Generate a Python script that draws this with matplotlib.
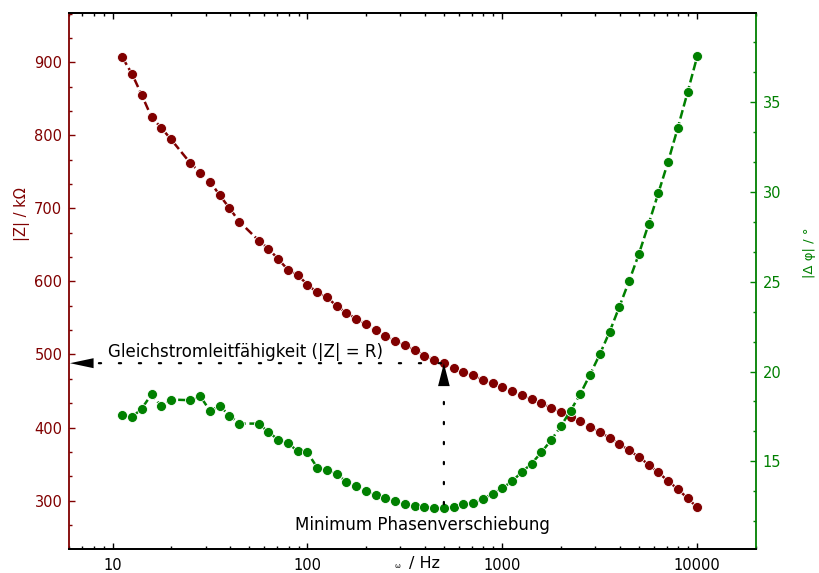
import numpy as np
import matplotlib.pyplot as plt
from matplotlib.ticker import MultipleLocator, AutoMinorLocator, LogLocator, FuncFormatter, NullFormatter
from matplotlib.transforms import blended_transform_factory

# Frequenz / Hz
freq = [11.22, 12.59, 14.13, 15.85, 17.78, 19.95,
        25.12, 28.18, 31.62, 35.48, 39.81, 44.67,
        56.23, 63.10, 70.79, 79.43, 89.13, 100.0, 112.2, 125.9, 141.3, 158.5,
        177.8, 199.5, 223.9, 251.2, 281.8, 316.2, 354.8, 398.1, 446.7, 501.2,
        562.3, 631.0, 707.9, 794.3, 891.3, 1000, 1122, 1259, 1413, 1585,
        1778, 1995, 2239, 2512, 2818, 3162, 3548, 3981, 4467, 5012,
        5623, 6310, 7079, 7943, 8913, 10000]

# |Z| / kOhm
z_abs = [906.8, 884.0, 855.0, 824.9, 810.3, 794.5,
         761.7, 748.9, 736.6, 718.0, 700.3, 682.0,
         656.0, 644.7, 630.6, 616.0, 608.8, 595.6, 585.0, 578.2, 566.5, 556.9,
         549.1, 541.4, 533.2, 525.9, 518.7, 512.7, 506.4, 498.6, 492.8, 488.1,
         481.8, 476.4, 471.3, 465.5, 460.4, 455.4, 449.5, 444.0, 438.6, 433.1,
         427.2, 421.8, 414.0, 408.9, 401.3, 393.5, 386.3, 377.5, 368.9, 359.8,
         349.4, 338.5, 327.0, 315.7, 303.4, 290.7]

# |phase| / deg
phase = [17.60, 17.45, 17.94, 18.73, 18.06, 18.44,
         18.40, 18.62, 17.82, 18.08, 17.55, 17.10,
         17.10, 16.62, 16.21, 16.00, 15.57, 15.49, 14.65, 14.50, 14.31, 13.85,
         13.62, 13.37, 13.11, 12.96, 12.77, 12.60, 12.51, 12.48, 12.40, 12.38,
         12.45, 12.60, 12.68, 12.90, 13.20, 13.51, 13.89, 14.40, 14.87, 15.50,
         16.17, 16.95, 17.82, 18.75, 19.83, 20.96, 22.20, 23.60, 25.03, 26.53,
         28.20, 29.93, 31.67, 33.57, 35.54, 37.56]

red = '#800000'
green = '#008000'
plt.rcParams['font.family'] = 'DejaVu Sans'

fig = plt.figure(figsize=(8.19, 5.73), dpi=100)
ax1 = fig.add_axes([0.0846, 0.0414, 0.8384, 0.9354])
ax2 = ax1.twinx()

ax1.plot(freq, z_abs, color=red, marker='o', ms=7.2, mec='white', mew=0.6,
         lw=1.8, dashes=(3.5, 1.5))
ax2.plot(freq, phase, color=green, marker='o', ms=7.2, mec='white', mew=0.6,
         lw=1.8, dashes=(3.5, 1.5))

ax1.set_xscale('log')
ax1.set_xlim(6, 20000)
ax1.set_ylim(233.4, 967)
ax2.set_ylim(10.1, 39.95)

ax1.xaxis.set_major_locator(LogLocator(base=10))
ax1.xaxis.set_minor_locator(LogLocator(base=10, subs=np.arange(2, 10)))
ax1.xaxis.set_major_formatter(FuncFormatter(lambda v, p: f'{v:g}'))
ax1.xaxis.set_minor_formatter(NullFormatter())
ax1.yaxis.set_major_locator(MultipleLocator(100))
ax1.yaxis.set_minor_locator(AutoMinorLocator(3))
ax2.yaxis.set_major_locator(MultipleLocator(5))
ax2.yaxis.set_minor_locator(AutoMinorLocator(3))

ax1.tick_params(axis='x', which='both', direction='in', top=True, colors='black',
                labelsize=10.5, pad=6)
ax1.tick_params(axis='x', which='major', length=4.5, width=1)
ax1.tick_params(axis='x', which='minor', length=2.5, width=1)
ax1.tick_params(axis='y', which='both', direction='in', colors=red, labelsize=10.5, pad=5)
ax1.tick_params(axis='y', which='major', length=4, width=1)
ax1.tick_params(axis='y', which='minor', length=2.5, width=1)
ax2.tick_params(axis='y', which='both', direction='in', colors=green, labelsize=10.5, pad=5)
ax2.tick_params(axis='y', which='major', length=4.5, width=1)
ax2.tick_params(axis='y', which='minor', length=2.5, width=1)

for ax in (ax1, ax2):
    for s in ax.spines.values():
        s.set_linewidth(1.3)
ax1.spines['left'].set_color(red)
ax2.spines['right'].set_color(green)
ax2.spines['left'].set_visible(False)
ax1.spines['right'].set_visible(False)

# Achsenbeschriftungen
fig.text(21.5 / 819, 1 - 214 / 573, '|Z| / kΩ', rotation=90, color=red,
         fontsize=10.5, ha='center', va='center')
fig.text(810 / 819, 1 - 253 / 573, '|Δ φ| / °', rotation=90, color=green,
         fontsize=9.5, ha='center', va='center')
fig.text(397 / 819, 1 - 566 / 573, 'ω', fontsize=5, ha='center', va='center')
fig.text(409 / 819, 2 / 573, '/ Hz', fontsize=11.5, ha='left', va='bottom')

# Minimum der Phase
i_min = int(np.argmin(phase))
f_min = freq[i_min]
z_min = z_abs[i_min]
phi_min = phase[i_min]

dots = (0, (1, 8))
blend = blended_transform_factory(ax1.transAxes, ax1.transData)

# horizontaler Pfeil zur y-Achse
ax2.annotate('', xy=(0.035, z_min), xycoords=blend,
             xytext=(f_min, z_min), textcoords=ax1.transData,
             arrowprops=dict(arrowstyle='-', linestyle=dots, lw=1.6, color='black',
                             shrinkA=2, shrinkB=0))
ax2.annotate('', xy=(0.001, z_min), xycoords=blend,
             xytext=(0.035, z_min), textcoords=blend,
             arrowprops=dict(arrowstyle='-|>,head_length=1.7,head_width=0.36',
                             color='black', lw=0, shrinkA=0, shrinkB=0))

# vertikaler Pfeil vom Phasenminimum
ax2.annotate('', xy=(f_min, z_min), xycoords=ax1.transData,
             xytext=(f_min, phi_min), textcoords=ax2.transData,
             arrowprops=dict(arrowstyle='-', linestyle=dots, lw=1.6, color='black',
                             shrinkA=3, shrinkB=16))
ax2.annotate('', xy=(f_min, z_min), xycoords=ax1.transData,
             xytext=(0, -16.5), textcoords='offset points',
             arrowprops=dict(arrowstyle='-|>,head_length=1.65,head_width=0.42',
                             color='black', lw=0, shrinkA=0, shrinkB=0))

ax1.text((108 - 69.3) / 686.7, (549.3 - 357) / 536, 'Gleichstromleitfähigkeit (|Z| = R)',
         transform=ax1.transAxes, fontsize=12, ha='left', va='baseline')
ax1.text((422 - 69.3) / 686.7, (549.3 - 530) / 536, 'Minimum Phasenverschiebung',
         transform=ax1.transAxes, fontsize=12, ha='center', va='baseline')

fig.savefig('out.png', dpi=100)
